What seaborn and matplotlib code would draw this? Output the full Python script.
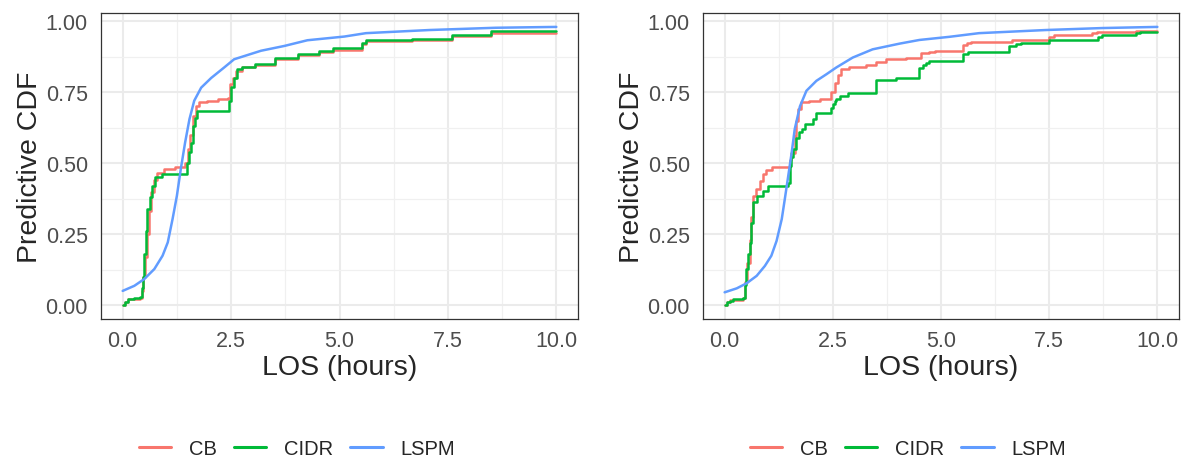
import numpy as np
import pandas as pd
import matplotlib
matplotlib.use("Agg")
import matplotlib.pyplot as plt
from matplotlib.lines import Line2D
from matplotlib.ticker import MultipleLocator
import seaborn as sns

methods = ["CB", "CIDR", "LSPM"]
palette = {"CB": "#F8766D", "CIDR": "#00BA38", "LSPM": "#619CFF"}

# ---- left panel ----
left_cb_x = [0.0, 0.06, 0.12, 0.40, 0.45, 0.48, 0.52, 0.55, 0.60, 0.65, 0.72, 0.80, 0.95, 1.20,
             1.44, 1.50, 1.56, 1.62, 1.70, 1.75, 1.95, 2.20, 2.43, 2.48, 2.55, 2.62, 2.75, 3.05,
             3.52, 4.05, 4.52, 4.85, 5.53, 5.62, 6.68, 7.60, 8.49, 10.0]
left_cb_y = [0.0, 0.01, 0.02, 0.025, 0.05, 0.10, 0.17, 0.25, 0.33, 0.40, 0.44, 0.467, 0.481, 0.485,
             0.50, 0.55, 0.60, 0.666, 0.70, 0.714, 0.72, 0.725, 0.73, 0.78, 0.80, 0.825, 0.838, 0.845,
             0.868, 0.882, 0.89, 0.90, 0.92, 0.929, 0.934, 0.947, 0.96, 0.96]

left_cidr_x = [0.0, 0.05, 0.12, 0.25, 0.40, 0.44, 0.47, 0.50, 0.53, 0.57, 0.62, 0.68, 0.74, 0.90,
               1.48, 1.52, 1.57, 1.62, 1.66, 1.72, 2.46, 2.50, 2.56, 2.63, 2.75, 3.05, 3.52, 4.05,
               4.52, 4.85, 5.53, 5.62, 6.68, 7.60, 8.49, 10.0]
left_cidr_y = [0.0, 0.01, 0.02, 0.025, 0.03, 0.06, 0.10, 0.18, 0.26, 0.34, 0.38, 0.42, 0.45, 0.461,
               0.50, 0.54, 0.57, 0.63, 0.66, 0.684, 0.72, 0.77, 0.80, 0.83, 0.84, 0.848, 0.872, 0.886,
               0.895, 0.905, 0.925, 0.934, 0.939, 0.951, 0.965, 0.965]

left_lspm_x = [0.0, 0.27, 0.50, 0.73, 0.92, 1.04, 1.15, 1.25, 1.34, 1.44, 1.54, 1.65, 1.81, 2.04,
               2.34, 2.57, 3.19, 3.73, 4.26, 5.11, 5.61, 7.07, 8.6, 10.0]
left_lspm_y = [0.05, 0.068, 0.092, 0.127, 0.174, 0.221, 0.303, 0.385, 0.479, 0.573, 0.655, 0.72,
               0.766, 0.80, 0.837, 0.866, 0.896, 0.913, 0.933, 0.946, 0.958, 0.969, 0.977, 0.98]

# ---- right panel ----
right_cb_x = [0.0, 0.06, 0.12, 0.42, 0.46, 0.52, 0.58, 0.62, 0.65, 0.72, 0.81, 0.88, 0.96, 1.10,
              1.46, 1.50, 1.54, 1.62, 1.66, 1.69, 1.77, 1.95, 2.20, 2.46, 2.54, 2.62, 2.69, 2.88,
              3.27, 3.50, 3.73, 4.20, 4.54, 4.73, 4.85, 5.50, 5.60, 5.70, 6.65, 7.50, 7.60, 8.50,
              8.60, 9.50, 10.0]
right_cb_y = [0.0, 0.01, 0.018, 0.025, 0.08, 0.15, 0.23, 0.31, 0.385, 0.41, 0.438, 0.461, 0.476, 0.485,
              0.488, 0.51, 0.537, 0.596, 0.65, 0.69, 0.716, 0.72, 0.725, 0.75, 0.784, 0.811, 0.831, 0.84,
              0.846, 0.858, 0.866, 0.87, 0.887, 0.892, 0.895, 0.915, 0.925, 0.928, 0.935, 0.945, 0.951, 0.958,
              0.963, 0.966, 0.966]

right_cidr_x = [0.0, 0.06, 0.12, 0.20, 0.42, 0.46, 0.50, 0.54, 0.58, 0.62, 0.66, 0.74, 0.89,
                1.00, 1.46, 1.50, 1.54, 1.58, 1.65, 1.73, 1.78, 1.86, 2.04, 2.12, 2.46, 2.50, 2.54,
                2.58, 2.66, 2.85, 3.50, 3.96, 4.50, 4.58, 4.65, 4.72, 5.50, 5.62, 6.58, 6.73, 6.85,
                7.50, 8.62, 8.72, 9.50, 9.60, 10.0]
right_cidr_y = [0.0, 0.01, 0.015, 0.02, 0.025, 0.07, 0.127, 0.18, 0.22, 0.29, 0.362, 0.385, 0.403,
                0.42, 0.43, 0.49, 0.52, 0.55, 0.59, 0.61, 0.62, 0.638, 0.655, 0.678, 0.695, 0.71, 0.72,
                0.727, 0.737, 0.746, 0.793, 0.80, 0.836, 0.845, 0.854, 0.86, 0.884, 0.893, 0.912, 0.919, 0.925,
                0.933, 0.946, 0.951, 0.958, 0.963, 0.963]

right_lspm_x = [0.0, 0.28, 0.51, 0.74, 0.93, 1.08, 1.20, 1.32, 1.39, 1.47, 1.55, 1.62, 1.74, 1.89,
                2.12, 2.35, 2.58, 2.96, 3.42, 4.04, 4.50, 5.19, 5.88, 7.42, 8.73, 10.0]
right_lspm_y = [0.045, 0.059, 0.077, 0.103, 0.138, 0.174, 0.226, 0.303, 0.373, 0.455, 0.538, 0.62,
                0.70, 0.755, 0.79, 0.813, 0.837, 0.872, 0.901, 0.921, 0.934, 0.945, 0.958, 0.969,
                0.976, 0.98]

x_ticks = [0.0, 2.5, 5.0, 7.5, 10.0]
y_ticks = [0.00, 0.25, 0.50, 0.75, 1.00]


def make_df(cb_x, cb_y, cidr_x, cidr_y, lspm_x, lspm_y):
    parts = []
    for m, xs, ys in zip(methods, [cb_x, cidr_x, lspm_x], [cb_y, cidr_y, lspm_y]):
        parts.append(pd.DataFrame({"los": xs, "cdf": ys, "method": m}))
    return pd.concat(parts, ignore_index=True)


panels = [
    make_df(left_cb_x, left_cb_y, left_cidr_x, left_cidr_y, left_lspm_x, left_lspm_y),
    make_df(right_cb_x, right_cb_y, right_cidr_x, right_cidr_y, right_lspm_x, right_lspm_y),
]

sns.set_style("white")
plt.rcParams["font.family"] = ["Liberation Sans", "DejaVu Sans"]

W, H = 1181, 460
fig = plt.figure(figsize=(W / 100, H / 100), dpi=100)
axes = [
    fig.add_axes([101 / W, 1 - 320 / H, 477 / W, 306 / H]),
    fig.add_axes([703 / W, 1 - 320 / H, 476 / W, 306 / H]),
]
legend_x = [297 / W, 908 / W]

for ax, df, lx in zip(axes, panels, legend_x):
    for m in methods:
        sub = df[df["method"] == m]
        sns.lineplot(data=sub, x="los", y="cdf", color=palette[m], lw=1.8,
                     estimator=None, sort=False, ax=ax,
                     drawstyle="default" if m == "LSPM" else "steps-post")
    ax.set_xlim(-0.5, 10.5)
    ax.set_ylim(-0.049, 1.029)
    ax.xaxis.set_minor_locator(MultipleLocator(1.25))
    ax.yaxis.set_minor_locator(MultipleLocator(0.125))
    ax.set_xticks(x_ticks)
    ax.set_xticklabels([f"{v:.1f}" for v in x_ticks])
    ax.set_yticks(y_ticks)
    ax.set_yticklabels([f"{v:.2f}" for v in y_ticks])
    ax.grid(which="major", color="#EBEBEB", lw=1.5)
    ax.grid(which="minor", color="#F0F0F0", lw=0.9)
    ax.set_axisbelow(True)
    for s in ax.spines.values():
        s.set_color("#333333")
        s.set_linewidth(0.9)
    ax.tick_params(which="major", length=4.5, width=0.9, color="#333333",
                   labelcolor="#4D4D4D", labelsize=15.5)
    ax.tick_params(axis="x", pad=3.5)
    ax.tick_params(axis="y", pad=5)
    ax.tick_params(which="minor", length=0)
    ax.set_xlabel("LOS (hours)", fontsize=20.5, labelpad=2)
    ax.set_ylabel("Predictive CDF", fontsize=20.5, labelpad=2)

    handles = [Line2D([], [], color=palette[m], lw=2.2) for m in methods]
    fig.legend(handles, methods, loc="center", bbox_to_anchor=(lx, 10 / H), ncol=3,
               frameon=False, fontsize=14.5, handlelength=1.6, handletextpad=0.9,
               columnspacing=0.85)

fig.savefig("out.png", dpi=100)
